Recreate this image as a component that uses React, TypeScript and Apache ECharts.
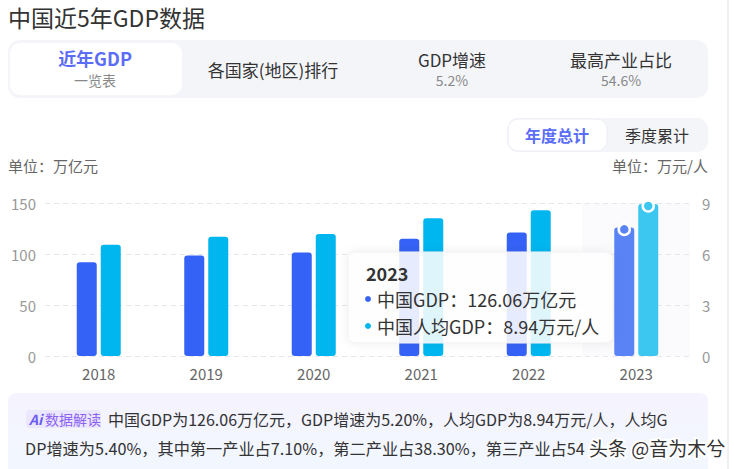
import React, { useEffect, useRef } from "react";
import * as echarts from "echarts";

const years = ["2018", "2019", "2020", "2021", "2022", "2023"];
const gdp = [91.93, 98.65, 101.36, 114.92, 121.02, 126.06];
const perCapita = [6.55, 7.01, 7.18, 8.1, 8.57, 8.94];
const leftAxis = { min: 0, max: 150, interval: 50 };
const rightAxis = { min: 0, max: 9, interval: 3 };
const highlightIndex = 5;

const FONT = '"Noto Sans CJK SC", "Noto Sans", sans-serif';
const BLUE = "#3562f6";
const BLUE_HI = "#5a83f6";
const CYAN = "#00b6ef";
const CYAN_HI = "#3cc7f1";

export default function App() {
  const ref = useRef<HTMLDivElement>(null);
  useEffect(() => {
    if (!ref.current) return;
    const chart = echarts.init(ref.current, undefined, { renderer: "svg" });
    const gdpData = gdp.map((v, i) =>
      i === highlightIndex ? { value: v, itemStyle: { color: BLUE_HI } } : v
    );
    const pcData = perCapita.map((v, i) =>
      i === highlightIndex ? { value: v, itemStyle: { color: CYAN_HI } } : v
    );
    const option: any = {
      animation: false,
      backgroundColor: "#fff",
      textStyle: { fontFamily: FONT },
      grid: { left: 45, right: 44, top: 203, bottom: 113 },
      xAxis: {
        type: "category",
        data: years,
        axisLine: { show: false },
        axisTick: { show: false },
        axisLabel: { color: "#666", fontSize: 15, margin: 10, fontFamily: FONT },
      },
      yAxis: [
        {
          type: "value",
          ...leftAxis,
          axisLabel: { color: "#999", fontSize: 15, margin: 9, fontFamily: FONT },
          splitLine: { lineStyle: { color: "#e6e7ec", type: [5, 4] } },
        },
        {
          type: "value",
          position: "right",
          ...rightAxis,
          axisLabel: { color: "#999", fontSize: 15, margin: 12, fontFamily: FONT },
          splitLine: { show: false },
        },
      ],
      series: [
        {
          name: "中国GDP",
          type: "bar",
          data: gdpData,
          barWidth: 20,
          barGap: "20%",
          itemStyle: { color: BLUE, borderRadius: 3 },
          markPoint: {
            symbol: "circle",
            symbolSize: 11,
            symbolOffset: [0, 2],
            label: { show: false },
            itemStyle: { color: BLUE_HI, borderColor: "#fff", borderWidth: 2.5 },
            data: [{ coord: [years[highlightIndex], gdp[highlightIndex]] }],
          },
        },
        {
          name: "中国人均GDP",
          type: "bar",
          yAxisIndex: 1,
          data: pcData,
          barWidth: 20,
          itemStyle: { color: CYAN, borderRadius: 3 },
          markPoint: {
            symbol: "circle",
            symbolSize: 11,
            symbolOffset: [0, 2],
            label: { show: false },
            itemStyle: { color: CYAN_HI, borderColor: "#fff", borderWidth: 2.5 },
            data: [{ coord: [years[highlightIndex], perCapita[highlightIndex]] }],
          },
        },
      ],
    };
    chart.setOption(option);

    const cx = chart.convertToPixel({ xAxisIndex: 0 }, years[highlightIndex]) as number;
    const y0 = chart.convertToPixel({ yAxisIndex: 0 }, leftAxis.min) as number;
    const yTop = chart.convertToPixel({ yAxisIndex: 0 }, leftAxis.max) as number;
    const x0 = chart.convertToPixel({ xAxisIndex: 0 }, years[0]) as number;
    const x1 = chart.convertToPixel({ xAxisIndex: 0 }, years[1]) as number;
    const bw = x1 - x0;

    const t = (x: number, y: number, text: string, size: number, color: string, extra: any = {}) => ({
      type: "text",
      x,
      y,
      z: extra.z ?? 10,
      style: {
        text,
        fontSize: size,
        fill: color,
        fontFamily: FONT,
        verticalAlign: "middle",
        align: extra.align ?? "left",
        fontWeight: extra.fontWeight ?? "normal",
        fontStyle: extra.fontStyle ?? "normal",
        stroke: extra.stroke,
        lineWidth: extra.lineWidth,
      },
    });

    const graphic: any[] = [
      // shadow for hovered category
      {
        type: "rect",
        z: -1,
        shape: { x: cx - bw / 2, y: yTop, width: bw, height: y0 - yTop },
        style: { fill: "rgba(140,150,190,0.035)" },
      },
      // right page edge
      { type: "rect", z: 0, shape: { x: 727, y: 0, width: 2, height: 469 }, style: { fill: "#f0f0f3" } },
      // title
      t(8, 17, "中国近5年GDP数据", 23, "#333"),
      // tabs
      { type: "rect", z: 1, shape: { x: 8, y: 40, width: 700, height: 58, r: 12 }, style: { fill: "#f4f5f9" } },
      { type: "rect", z: 2, shape: { x: 10, y: 43, width: 172, height: 52, r: 10 }, style: { fill: "#fff" } },
      t(95, 58, "近年GDP", 18, "#5b6df7", { align: "center", fontWeight: "bold" }),
      t(95, 80, "一览表", 14, "#888", { align: "center" }),
      t(273, 69, "各国家(地区)排行", 17, "#333", { align: "center" }),
      t(452, 59, "GDP增速", 17, "#333", { align: "center" }),
      t(452, 80, "5.2%", 14, "#888", { align: "center" }),
      t(621, 59, "最高产业占比", 17, "#333", { align: "center" }),
      t(621, 80, "54.6%", 14, "#888", { align: "center" }),
      // toggle
      { type: "rect", z: 1, shape: { x: 507, y: 118, width: 201, height: 34, r: 11 }, style: { fill: "#f4f5f9" } },
      { type: "rect", z: 2, shape: { x: 508, y: 119, width: 99, height: 32, r: 10 }, style: { fill: "#fff", stroke: "#eceef5", lineWidth: 1 } },
      t(557, 135, "年度总计", 16, "#5b6df7", { align: "center", fontWeight: "bold" }),
      t(657, 135, "季度累计", 16, "#333", { align: "center" }),
      // units
      t(8, 165, "单位：万亿元", 15, "#666"),
      t(708, 165, "单位：万元/人", 15, "#666", { align: "right" }),
      // tooltip
      {
        type: "rect",
        z: 50,
        shape: { x: 348, y: 252, width: 265, height: 91, r: 7 },
        style: { fill: "rgba(255,255,255,0.87)", shadowBlur: 10, shadowColor: "rgba(0,0,0,0.08)", stroke: "#f0f0f4", lineWidth: 1 },
      },
      t(366, 273, years[highlightIndex], 18, "#333", { fontWeight: "bold", z: 51 }),
      { type: "circle", z: 51, shape: { cx: 368, cy: 299, r: 3 }, style: { fill: BLUE } },
      t(377, 299, `中国GDP：${gdp[highlightIndex].toFixed(2)}万亿元`, 18, "#333", { z: 51 }),
      { type: "circle", z: 51, shape: { cx: 368, cy: 326, r: 3 }, style: { fill: CYAN } },
      t(377, 326, `中国人均GDP：${perCapita[highlightIndex].toFixed(2)}万元/人`, 18, "#333", { z: 51 }),
      // AI box
      {
        type: "rect",
        z: 1,
        shape: { x: 8, y: 393, width: 700, height: 90, r: 8 },
        style: {
          fill: {
            type: "linear",
            x: 0,
            y: 0,
            x2: 0,
            y2: 1,
            colorStops: [
              { offset: 0, color: "#f5f3ff" },
              { offset: 1, color: "#f1f8ff" },
            ],
          },
        },
      },
      { type: "rect", z: 2, shape: { x: 26, y: 410, width: 75, height: 18, r: 4 }, style: { fill: "#ebe7fd" } },
      t(29, 419, "Ai", 14, "#6a5cf7", { fontWeight: "bold", fontStyle: "italic", z: 3 }),
      t(45, 419, "数据解读", 14, "#8d63f5", { z: 3 }),
      t(108, 419, "中国GDP为126.06万亿元，GDP增速为5.20%，人均GDP为8.94万元/人，人均G", 16, "#333"),
      t(25, 448, "DP增速为5.40%，其中第一产业占7.10%，第二产业占38.30%，第三产业占54", 16.2, "#333"),
      t(589, 447, "头条 @音为木兮", 19, "#333", { stroke: "#fff", lineWidth: 4, z: 20 }),
    ];
    chart.setOption({ graphic });
    return () => chart.dispose();
  }, []);
  return (
    <div
      ref={ref}
      style={{ position: "absolute", left: 0, top: 0, width: 734, height: 469, background: "#fff" }}
    />
  );
}
